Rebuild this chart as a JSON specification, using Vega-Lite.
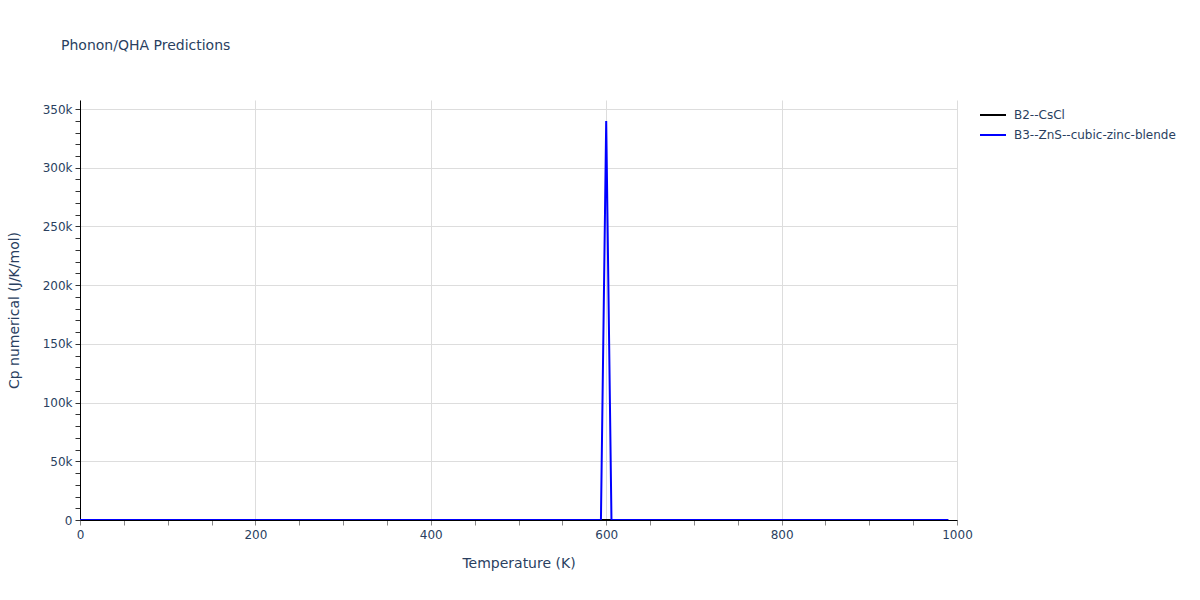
{
  "$schema": "https://vega.github.io/schema/vega-lite/v6.json",
  "autosize": {"type": "none"},
  "width": 877,
  "height": 420,
  "padding": {"left": 80, "top": 100, "right": 243, "bottom": 80},
  "background": "white",
  "title": {
    "text": "Phonon/QHA Predictions",
    "anchor": "start",
    "frame": "group",
    "dx": -19,
    "offset": 36,
    "baseline": "alphabetic",
    "font": "DejaVu Sans",
    "fontSize": 14,
    "fontWeight": "normal",
    "color": "#2a3f5f"
  },
  "config": {
    "view": {"stroke": null},
    "font": "DejaVu Sans"
  },
  "data": {
    "values": [
      {"T": 0, "B2--CsCl": 0, "B3--ZnS--cubic-zinc-blende": 0},
      {"T": 30, "B2--CsCl": 7.6, "B3--ZnS--cubic-zinc-blende": 9.8},
      {"T": 60, "B2--CsCl": 21.9, "B3--ZnS--cubic-zinc-blende": 25.3},
      {"T": 90, "B2--CsCl": 31.0, "B3--ZnS--cubic-zinc-blende": 33.9},
      {"T": 120, "B2--CsCl": 36.3, "B3--ZnS--cubic-zinc-blende": 38.4},
      {"T": 150, "B2--CsCl": 39.5, "B3--ZnS--cubic-zinc-blende": 41.2},
      {"T": 180, "B2--CsCl": 41.6, "B3--ZnS--cubic-zinc-blende": 43.0},
      {"T": 210, "B2--CsCl": 43.0, "B3--ZnS--cubic-zinc-blende": 44.2},
      {"T": 240, "B2--CsCl": 44.0, "B3--ZnS--cubic-zinc-blende": 45.0},
      {"T": 270, "B2--CsCl": 44.7, "B3--ZnS--cubic-zinc-blende": 45.6},
      {"T": 300, "B2--CsCl": 45.3, "B3--ZnS--cubic-zinc-blende": 46.1},
      {"T": 330, "B2--CsCl": 45.7, "B3--ZnS--cubic-zinc-blende": 46.5},
      {"T": 360, "B2--CsCl": 46.0, "B3--ZnS--cubic-zinc-blende": 46.8},
      {"T": 390, "B2--CsCl": 46.3, "B3--ZnS--cubic-zinc-blende": 47.1},
      {"T": 420, "B2--CsCl": 46.5, "B3--ZnS--cubic-zinc-blende": 47.3},
      {"T": 450, "B2--CsCl": 46.7, "B3--ZnS--cubic-zinc-blende": 47.5},
      {"T": 480, "B2--CsCl": 46.9, "B3--ZnS--cubic-zinc-blende": 47.7},
      {"T": 510, "B2--CsCl": 47.1, "B3--ZnS--cubic-zinc-blende": 47.9},
      {"T": 540, "B2--CsCl": 47.3, "B3--ZnS--cubic-zinc-blende": 48.1},
      {"T": 570, "B2--CsCl": 47.4, "B3--ZnS--cubic-zinc-blende": 48.3},
      {"T": 594, "B2--CsCl": 47.5, "B3--ZnS--cubic-zinc-blende": 48.4},
      {"T": 600, "B2--CsCl": 47.6, "B3--ZnS--cubic-zinc-blende": 339800},
      {"T": 606, "B2--CsCl": 47.6, "B3--ZnS--cubic-zinc-blende": 48.6},
      {"T": 630, "B2--CsCl": 47.8, "B3--ZnS--cubic-zinc-blende": 48.8},
      {"T": 660, "B2--CsCl": 47.9, "B3--ZnS--cubic-zinc-blende": 49.0},
      {"T": 690, "B2--CsCl": 48.1, "B3--ZnS--cubic-zinc-blende": 49.1},
      {"T": 720, "B2--CsCl": 48.2, "B3--ZnS--cubic-zinc-blende": 49.3},
      {"T": 750, "B2--CsCl": 48.4, "B3--ZnS--cubic-zinc-blende": 49.4},
      {"T": 780, "B2--CsCl": 48.5, "B3--ZnS--cubic-zinc-blende": 49.6},
      {"T": 810, "B2--CsCl": 48.7, "B3--ZnS--cubic-zinc-blende": 49.7},
      {"T": 840, "B2--CsCl": 48.8, "B3--ZnS--cubic-zinc-blende": 49.9},
      {"T": 870, "B2--CsCl": 49.0, "B3--ZnS--cubic-zinc-blende": 50.0},
      {"T": 900, "B2--CsCl": 49.1, "B3--ZnS--cubic-zinc-blende": 50.2},
      {"T": 930, "B2--CsCl": 49.3, "B3--ZnS--cubic-zinc-blende": 50.3},
      {"T": 960, "B2--CsCl": 49.4, "B3--ZnS--cubic-zinc-blende": 50.5},
      {"T": 990, "B2--CsCl": 49.6, "B3--ZnS--cubic-zinc-blende": 50.6}
    ]
  },
  "transform": [
    {"fold": ["B2--CsCl", "B3--ZnS--cubic-zinc-blende"], "as": ["series", "Cp"]}
  ],
  "mark": {"type": "line", "strokeWidth": 2, "clip": true},
  "encoding": {
    "x": {
      "field": "T",
      "type": "quantitative",
      "scale": {"domain": [0, 1000], "nice": false, "zero": false},
      "axis": {
        "title": "Temperature (K)",
        "values": [0, 50, 100, 150, 200, 250, 300, 350, 400, 450, 500, 550, 600, 650, 700, 750, 800, 850, 900, 950, 1000],
        "labelExpr": "datum.value % 200 === 0 ? datum.label : ''",
        "format": "d",
        "grid": true,
        "gridColor": "#dddddd",
        "gridOpacity": {"condition": {"test": "datum.value % 200 === 0", "value": 1}, "value": 0},
        "domainColor": "#000000",
        "domainWidth": 1,
        "tickColor": "#888888",
        "tickSize": 5,
        "tickWidth": 1,
        "labelFont": "DejaVu Sans",
        "labelFontSize": 12,
        "labelColor": "#2a3f5f",
        "labelPadding": 4,
        "labelFlush": false,
        "titleFont": "DejaVu Sans",
        "titleFontSize": 14,
        "titleFontWeight": "normal",
        "titleColor": "#2a3f5f",
        "titleBaseline": "middle",
        "titleY": 43
      }
    },
    "y": {
      "field": "Cp",
      "type": "quantitative",
      "scale": {"domain": [0, 357700], "nice": false},
      "axis": {
        "title": "Cp numerical (J/K/mol)",
        "values": [0, 10000, 20000, 30000, 40000, 50000, 60000, 70000, 80000, 90000, 100000, 110000, 120000, 130000, 140000, 150000, 160000, 170000, 180000, 190000, 200000, 210000, 220000, 230000, 240000, 250000, 260000, 270000, 280000, 290000, 300000, 310000, 320000, 330000, 340000, 350000],
        "format": "~s",
        "labelExpr": "datum.value === 0 ? '0' : (datum.value % 50000 === 0 ? datum.label : '')",
        "grid": true,
        "gridColor": "#dddddd",
        "gridOpacity": {"condition": {"test": "datum.value % 50000 === 0 && datum.value > 0", "value": 1}, "value": 0},
        "domainColor": "#000000",
        "domainWidth": 1,
        "tickColor": "#333333",
        "tickSize": 5,
        "tickWidth": 1,
        "labelFont": "DejaVu Sans",
        "labelFontSize": 12,
        "labelColor": "#2a3f5f",
        "labelPadding": 3,
        "labelFlush": false,
        "titleFont": "DejaVu Sans",
        "titleFontSize": 14,
        "titleFontWeight": "normal",
        "titleColor": "#2a3f5f",
        "titleAngle": -90,
        "titleBaseline": "middle",
        "titleX": -66,
        "titleY": 210
      }
    },
    "color": {
      "field": "series",
      "type": "nominal",
      "scale": {"domain": ["B2--CsCl", "B3--ZnS--cubic-zinc-blende"], "range": ["#000000", "#0000ff"]},
      "legend": {
        "title": null,
        "orient": "none",
        "legendX": 899,
        "legendY": 1,
        "padding": 0,
        "symbolType": "stroke",
        "symbolSize": 676,
        "symbolStrokeWidth": 2,
        "labelOffset": 7,
        "rowPadding": -3,
        "labelLimit": 400,
        "labelFont": "DejaVu Sans",
        "labelFontSize": 12,
        "labelColor": "#2a3f5f"
      }
    }
  }
}
